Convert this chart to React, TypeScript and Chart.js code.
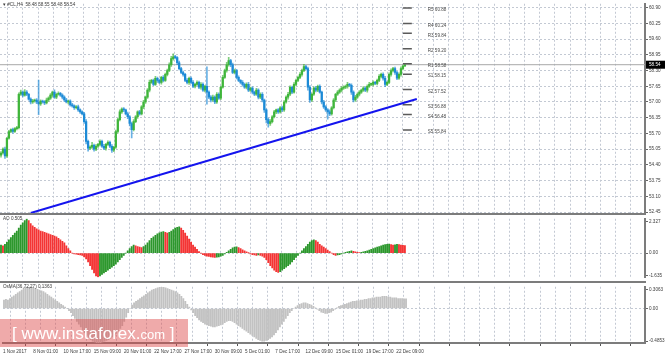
import React, { useEffect, useRef } from 'react';
import { Chart, registerables } from 'chart.js';
Chart.register(...registerables);

// ---------- data ----------
const FIRST_OPEN = 54.8;
const CLOSES = [
  54.89, 55.05, 54.77, 55.5, 55.78, 55.86, 55.78, 55.9, 55.94, 57.32,
  57.41, 57.28, 57.41, 57.32, 57.12, 57.0, 57.04, 57.08, 57.0, 56.92,
  57.04, 57.0, 56.96, 57.08, 57.16, 57.28, 57.41, 57.2, 57.32, 57.36,
  57.28, 57.2, 57.08, 57.0, 57.04, 56.88, 56.84, 56.76, 56.8, 56.67,
  56.59, 56.51, 56.19, 55.37, 55.09, 55.13, 55.21, 55.05, 55.17, 55.25,
  55.37, 55.17, 55.09, 55.25, 55.33, 55.17, 55.01, 55.13, 55.78, 56.27,
  56.59, 56.71, 56.67, 56.51, 56.39, 56.11, 55.86, 56.19, 56.39, 56.59,
  56.51, 56.8, 57.0, 57.2, 57.49, 57.81, 57.89, 57.73, 57.98, 57.89,
  57.81, 58.02, 57.89, 58.14, 58.3, 58.54, 58.79, 58.87, 58.83, 58.62,
  58.38, 58.22, 58.14, 57.89, 57.81, 57.98, 57.81, 57.65, 57.73, 57.81,
  57.61, 57.73, 57.49, 57.65, 57.41, 57.2, 57.08, 57.2, 57.0, 57.32,
  57.16, 57.61, 58.02, 58.3, 58.54, 58.71, 58.54, 58.22, 58.3, 58.02,
  57.89, 57.81, 57.73, 57.61, 57.73, 57.49, 57.57, 57.41, 57.32, 57.49,
  57.2, 57.32, 57.08, 56.67, 56.27, 56.11, 56.19, 56.39, 56.59, 56.67,
  56.59, 56.76, 56.67, 57.0, 57.2, 57.32, 57.61, 57.41, 57.73, 57.89,
  58.02, 58.14, 58.3, 58.46, 58.38, 57.61, 57.08, 57.32, 57.57, 57.49,
  57.65, 57.41, 57.0, 56.8, 56.67, 56.59, 56.51, 56.76, 57.08, 57.32,
  57.41, 57.49, 57.57, 57.61, 57.65, 57.73, 57.69, 57.41, 57.08, 57.2,
  57.32, 57.41, 57.49, 57.57, 57.49, 57.65, 57.73, 57.73, 57.81, 57.77,
  57.89, 58.06, 58.14, 57.98, 57.73, 57.81, 58.14, 58.3, 58.38, 58.22,
  57.98, 58.14, 58.38, 58.48, 58.54,
];
// wick lengths in hundredths above / below the candle body
const WICK_UP = [
  6, 5, 8, 4, 5, 3, 6, 4, 5, 6, 8, 5, 10, 6, 4, 5, 7, 4, 6, 90,
  5, 4, 6, 8, 5, 7, 4, 9, 5, 6, 4, 6, 5, 7, 4, 5, 6, 4, 5, 7,
  5, 4, 6, 8, 5, 6, 12, 5, 7, 4, 6, 5, 8, 4, 6, 5, 7, 4, 6, 5,
  8, 5, 6, 4, 7, 5, 6, 8, 5, 4, 6, 5, 7, 4, 6, 10, 5, 6, 8, 5,
  6, 4, 7, 5, 6, 8, 10, 12, 6, 5, 7, 5, 6, 4, 8, 5, 6, 7, 4, 6,
  5, 7, 6, 4, 80, 5, 6, 8, 5, 7, 6, 5, 8, 6, 10, 14, 5, 7, 6, 5,
  6, 4, 7, 5, 6, 8, 5, 6, 4, 7, 5, 6, 7, 4, 5, 6, 8, 5, 6, 4,
  6, 5, 7, 6, 5, 8, 6, 5, 7, 6, 5, 8, 6, 10, 5, 6, 7, 5, 6, 8,
  5, 6, 4, 7, 5, 6, 8, 5, 6, 4, 6, 5, 7, 6, 5, 8, 4, 6, 5, 7,
  5, 6, 4, 7, 5, 6, 8, 5, 6, 4, 6, 7, 5, 6, 8, 5, 6, 7, 5, 6,
  5, 6, 7, 5, 1,
];
const WICK_DN = [
  8, 5, 10, 6, 4, 5, 7, 4, 6, 5, 5, 7, 4, 6, 5, 8, 6, 5, 7, 45,
  6, 5, 7, 4, 6, 5, 8, 5, 6, 4, 5, 7, 6, 4, 8, 5, 6, 7, 5, 6,
  6, 5, 8, 10, 12, 6, 5, 8, 6, 5, 7, 5, 6, 8, 5, 6, 10, 6, 5, 7,
  5, 6, 7, 5, 8, 10, 35, 6, 5, 7, 6, 5, 8, 6, 5, 7, 4, 6, 5, 8,
  5, 7, 6, 4, 6, 5, 7, 6, 5, 8, 6, 5, 7, 5, 6, 8, 5, 6, 7, 5,
  6, 8, 5, 7, 50, 6, 8, 5, 7, 6, 5, 6, 4, 5, 7, 6, 8, 5, 6, 7,
  5, 6, 8, 5, 7, 6, 5, 8, 6, 5, 7, 6, 8, 10, 14, 15, 8, 6, 5, 7,
  6, 5, 7, 6, 5, 8, 6, 7, 5, 6, 5, 6, 7, 5, 6, 12, 10, 6, 5, 7,
  6, 5, 8, 7, 6, 30, 8, 6, 5, 7, 5, 6, 7, 5, 6, 8, 5, 10, 8, 6,
  5, 7, 6, 5, 6, 8, 5, 6, 7, 5, 6, 5, 7, 8, 10, 6, 5, 7, 6, 8,
  6, 5, 7, 6, 0,
];
const AO_VALUES = [
  0.55, 0.5, 0.6, 0.75, 0.9, 1.05, 1.2, 1.35, 1.5, 1.7,
  1.9, 2.05, 2.2, 2.327, 2.2, 2.0, 1.85, 1.75, 1.65, 1.58,
  1.5, 1.45, 1.4, 1.35, 1.3, 1.25, 1.2, 1.15, 1.1, 1.0,
  0.9, 0.8, 0.7, 0.5, 0.3, 0.15, 0.0, -0.05, -0.08, -0.1,
  -0.12, -0.15, -0.25, -0.4, -0.6, -0.85, -1.1, -1.35, -1.55, -1.635,
  -1.55, -1.45, -1.35, -1.25, -1.15, -1.05, -0.95, -0.85, -0.75, -0.6,
  -0.45, -0.3, -0.15, 0.0, 0.15, 0.3, 0.45, 0.55, 0.5, 0.45,
  0.4, 0.38, 0.45, 0.55, 0.7, 0.85, 1.0, 1.1, 1.2, 1.3,
  1.38, 1.42, 1.45, 1.4, 1.35, 1.4, 1.5, 1.6, 1.7, 1.75,
  1.78, 1.7, 1.55, 1.35, 1.15, 0.95, 0.75, 0.55, 0.4, 0.25,
  0.1, 0.0, -0.1, -0.15, -0.2, -0.22, -0.25, -0.28, -0.3, -0.28,
  -0.25, -0.2, -0.15, -0.05, 0.05, 0.15, 0.25, 0.35, 0.4, 0.42,
  0.38, 0.3, 0.22, 0.15, 0.08, 0.02, -0.05, -0.1, -0.12, -0.15,
  -0.12, -0.15, -0.2, -0.3, -0.45, -0.65, -0.85, -1.0, -1.15, -1.25,
  -1.3, -1.25, -1.15, -1.05, -0.95, -0.85, -0.75, -0.6, -0.45, -0.3,
  -0.15, 0.0, 0.15, 0.3, 0.45, 0.6, 0.75, 0.85, 0.9, 0.85,
  0.75, 0.6, 0.5, 0.4, 0.3, 0.2, 0.1, 0.0, -0.1, -0.15,
  -0.12, -0.1, -0.05, 0.0, 0.05, 0.08, 0.12, 0.15, 0.12, 0.08,
  0.05, 0.03, 0.05, 0.08, 0.12, 0.16, 0.2, 0.25, 0.3, 0.35,
  0.4, 0.45, 0.5, 0.55, 0.58, 0.6, 0.62, 0.58, 0.55, 0.56,
  0.6, 0.58, 0.55, 0.52, 0.505,
];
const OSMA_VALUES = [
  0.12, 0.13, 0.12, 0.14, 0.16, 0.18, 0.2, 0.22, 0.24, 0.26,
  0.28, 0.29, 0.3, 0.3063, 0.3, 0.29, 0.28, 0.27, 0.26, 0.25,
  0.24, 0.22, 0.2, 0.18, 0.16, 0.14, 0.12, 0.1, 0.08, 0.06,
  0.04, 0.02, 0.0, -0.03, -0.06, -0.1, -0.14, -0.18, -0.22, -0.26,
  -0.3, -0.34, -0.38, -0.41, -0.44, -0.46, -0.47, -0.48, -0.4853, -0.48,
  -0.47, -0.46, -0.45, -0.44, -0.42, -0.4, -0.38, -0.35, -0.32, -0.28,
  -0.24, -0.18, -0.12, -0.06, 0.0, 0.05, 0.08, 0.1, 0.12, 0.14,
  0.16, 0.18, 0.2, 0.22, 0.24, 0.26, 0.27, 0.28, 0.29, 0.3,
  0.3, 0.3, 0.29, 0.28, 0.27, 0.26, 0.25, 0.24, 0.22, 0.2,
  0.17, 0.14, 0.1, 0.06, 0.02, -0.02, -0.06, -0.1, -0.13, -0.16,
  -0.18, -0.2, -0.22, -0.23, -0.24, -0.25, -0.26, -0.26, -0.25, -0.24,
  -0.23, -0.22, -0.2, -0.18, -0.17, -0.17, -0.18, -0.2, -0.22, -0.24,
  -0.26, -0.28, -0.3, -0.32, -0.34, -0.36, -0.38, -0.4, -0.42, -0.44,
  -0.45, -0.46, -0.46, -0.45, -0.44, -0.42, -0.4, -0.37, -0.34, -0.3,
  -0.26, -0.22, -0.18, -0.14, -0.1, -0.06, -0.03, 0.0, 0.02, 0.04,
  0.06, 0.07, 0.08, 0.08, 0.07, 0.06, 0.05, 0.03, 0.01, -0.01,
  -0.03, -0.05, -0.06, -0.07, -0.07, -0.06, -0.05, -0.03, -0.01, 0.01,
  0.03, 0.04, 0.05, 0.06, 0.07, 0.08, 0.09, 0.1, 0.1, 0.11,
  0.11, 0.12, 0.12, 0.13, 0.13, 0.14, 0.14, 0.15, 0.15, 0.16,
  0.16, 0.16, 0.17, 0.17, 0.17, 0.16, 0.16, 0.15, 0.15, 0.15,
  0.14, 0.14, 0.14, 0.1363, 0.1363,
];
const PRICE_TICKS = [60.9, 60.25, 59.6, 58.95, 58.3, 57.65, 57.0, 56.35, 55.7, 55.05, 54.4, 53.75, 53.1, 52.45];
const PRICE_MIN = 52.41;
const PRICE_MAX = 61.06;
const AO_MIN = -1.635;
const AO_MAX = 2.327;
const OSMA_MIN = -0.4853;
const OSMA_MAX = 0.3063;
const PIVOT_NAMES = ['R5', 'R4', 'R3', 'R2', 'R1', 'S1', 'S2', 'S3', 'S4', 'S5'];
const PIVOT_LEVELS = [60.88, 60.24, 59.84, 59.2, 58.58, 58.15, 57.52, 56.88, 56.48, 55.84];
const TIME_LABELS = [
  '1 Nov 2017', '8 Nov 01:00', '10 Nov 17:00', '15 Nov 09:00', '20 Nov 01:00', '22 Nov 17:00', '27 Nov 17:00',
  '30 Nov 09:00', '5 Dec 01:00', '7 Dec 17:00', '12 Dec 09:00', '15 Dec 01:00', '19 Dec 17:00', '22 Dec 09:00',
];
const TREND_X = [15, 210];
const TREND_Y = [52.41, 57.12];
const LAST_PRICE = 58.54;
const HEADER = '\u25BE #CL,H4  58.48 58.55 58.48 58.54';
const AO_TITLE = 'AO 0.505';
const OSMA_TITLE = 'OsMA(36,72,27) 0.1363';

// ---------- layout / style ----------
const FONT = "'Liberation Sans', Arial, sans-serif";
const FS = 4.6;
const TEXT = '#3a3a3a';
const GRID = '#c3c9d3';
const FRAME = '#7c7c7c';
const BULL = '#3fb53a';
const BEAR = '#1c8ad6';
const AO_UP = '#2c972c';
const AO_DN = '#f43434';
const OSMA_COL = '#c2c2c2';
const PLOT_W = 645;
const BAR_PX = 1.98;
const GRID_PX = 15.2;
const X_MIN = -0.5;
const X_MAX = X_MIN + PLOT_W / BAR_PX;
const GRID_VALUES: number[] = [];
for (let k = 0; k * GRID_PX <= PLOT_W; k++) GRID_VALUES.push(X_MIN + (k * GRID_PX) / BAR_PX);

const OPENS = CLOSES.map((c, i) => (i === 0 ? FIRST_OPEN : CLOSES[i - 1]));
const HIGHS = CLOSES.map((c, i) => Math.max(OPENS[i], c) + WICK_UP[i] / 100);
const LOWS = CLOSES.map((c, i) => Math.min(OPENS[i], c) - WICK_DN[i] / 100);
const CANDLE_COLORS = CLOSES.map((c, i) => (c >= OPENS[i] ? BULL : BEAR));
const AO_COLORS = AO_VALUES.map((v, i) => (i === 0 || v >= AO_VALUES[i - 1] ? AO_UP : AO_DN));

function xAxis(showLabels: boolean) {
  return {
    type: 'linear',
    min: X_MIN,
    max: X_MAX,
    offset: false,
    afterBuildTicks: (s: any) => {
      s.ticks = GRID_VALUES.map((v) => ({ value: v }));
    },
    afterFit: (s: any) => {
      s.height = showLabels ? 14 : 0;
    },
    ticks: {
      display: showLabels,
      autoSkip: false,
      maxRotation: 0,
      minRotation: 0,
      align: 'start',
      padding: 3,
      color: TEXT,
      font: { size: FS, family: FONT },
      callback: (_v: any, i: number) => (i % 2 === 0 && TIME_LABELS[i / 2] ? TIME_LABELS[i / 2] : ''),
    },
    grid: {
      color: GRID,
      lineWidth: 1,
      drawTicks: showLabels,
      tickLength: 3,
      tickColor: (ctx: any) => (ctx.index % 2 === 0 ? '#555' : 'rgba(0,0,0,0)'),
    },
    border: { display: showLabels, color: FRAME, width: 2, dash: [2, 2] },
  };
}

function yAxis(min: number, max: number, ticks: { value: number; label: string; grid: boolean }[]) {
  return {
    position: 'right',
    min,
    max,
    afterFit: (s: any) => {
      s.width = 665 - PLOT_W;
    },
    afterBuildTicks: (s: any) => {
      s.ticks = ticks.map((t) => ({ value: t.value }));
    },
    ticks: {
      color: TEXT,
      padding: 1,
      font: { size: FS, family: FONT },
      callback: (_v: any, i: number) => ticks[i].label,
    },
    grid: {
      color: (ctx: any) => (ticks[ctx.index] && ticks[ctx.index].grid ? GRID : 'rgba(0,0,0,0)'),
      lineWidth: 1,
      drawTicks: true,
      tickLength: 3,
      tickColor: '#666',
    },
    border: { display: true, color: FRAME, width: 2, dash: [2, 2] },
  };
}

const baseOptions = (padding: any) => ({
  responsive: false,
  maintainAspectRatio: false,
  animation: false,
  events: [],
  layout: { padding },
  plugins: { legend: { display: false }, tooltip: { enabled: false } },
});

function mainConfig(): any {
  const pivotData: any[] = [];
  PIVOT_LEVELS.forEach((lv) => {
    pivotData.push({ x: 203, y: lv }, { x: 207.5, y: lv }, { x: 207.6, y: null });
  });
  const overlay = {
    id: 'mainOverlay',
    afterDraw(chart: any) {
      const { ctx, scales } = chart;
      const xs = scales.x;
      const ys = scales.y;
      ctx.save();
      ctx.font = `${FS}px ${FONT}`;
      ctx.fillStyle = '#4a4a4a';
      ctx.textBaseline = 'middle';
      ctx.textAlign = 'left';
      PIVOT_NAMES.forEach((n, i) => {
        ctx.fillText(`${n} ${PIVOT_LEVELS[i].toFixed(2)}`, xs.getPixelForValue(215.5), ys.getPixelForValue(PIVOT_LEVELS[i]) + 2);
      });
      const py = ys.getPixelForValue(LAST_PRICE);
      ctx.fillStyle = '#000';
      ctx.fillRect(PLOT_W + 1, py - 4, 20, 8);
      ctx.fillStyle = '#fff';
      ctx.fillText(LAST_PRICE.toFixed(2), PLOT_W + 4, py + 0.5);
      ctx.restore();
    },
  };
  return {
    type: 'bar',
    data: {
      datasets: [
        {
          type: 'line',
          data: TREND_X.map((x, i) => ({ x, y: TREND_Y[i] })),
          borderColor: '#1414ee',
          borderWidth: 2,
          pointRadius: 0,
          order: 0,
        },
        {
          type: 'line',
          data: pivotData,
          borderColor: '#5a5a5a',
          borderWidth: 1.5,
          pointRadius: 0,
          spanGaps: false,
          order: 1,
        },
        {
          type: 'bar',
          data: CLOSES.map((c, i) => ({ x: i, y: [OPENS[i], c] })),
          backgroundColor: CANDLE_COLORS,
          barThickness: 1.6,
          minBarLength: 1,
          grouped: false,
          order: 2,
        },
        {
          type: 'bar',
          data: CLOSES.map((_c, i) => ({ x: i, y: [LOWS[i], HIGHS[i]] })),
          backgroundColor: CANDLE_COLORS.map((c) => c + 'aa'),
          barThickness: 1,
          grouped: false,
          order: 3,
        },
        {
          type: 'line',
          data: [
            { x: X_MIN, y: LAST_PRICE },
            { x: X_MAX, y: LAST_PRICE },
          ],
          borderColor: '#a8a8a8',
          borderWidth: 1,
          pointRadius: 0,
          order: 4,
        },
      ],
    },
    options: {
      ...baseOptions({ top: 0, bottom: 7, left: 0, right: 0 }),
      scales: {
        x: xAxis(false),
        y: yAxis(
          PRICE_MIN,
          PRICE_MAX,
          PRICE_TICKS.map((v) => ({ value: v, label: v.toFixed(2), grid: true }))
        ),
      },
    },
    plugins: [overlay],
  };
}

function aoConfig(): any {
  const pxPerUnit = 66 / (AO_MAX - AO_MIN);
  return {
    type: 'bar',
    data: {
      datasets: [
        {
          data: AO_VALUES.map((v, i) => ({ x: i, y: v })),
          backgroundColor: AO_COLORS,
          barThickness: 1.2,
          grouped: false,
        },
      ],
    },
    options: {
      ...baseOptions(0),
      scales: {
        x: xAxis(false),
        y: yAxis(AO_MIN, AO_MAX, [
          { value: AO_MAX - 3 / pxPerUnit, label: AO_MAX.toFixed(3), grid: false },
          { value: 0, label: '0.00', grid: true },
          { value: AO_MIN + 2 / pxPerUnit, label: AO_MIN.toFixed(3), grid: false },
        ]),
      },
    },
  };
}

function osmaConfig(): any {
  const pxPerUnit = 60 / (OSMA_MAX - OSMA_MIN);
  return {
    type: 'bar',
    data: {
      datasets: [
        {
          data: OSMA_VALUES.map((v, i) => ({ x: i, y: v })),
          backgroundColor: OSMA_COL,
          barThickness: 1.2,
          grouped: false,
        },
      ],
    },
    options: {
      ...baseOptions(0),
      scales: {
        x: xAxis(true),
        y: yAxis(OSMA_MIN, OSMA_MAX, [
          { value: OSMA_MAX - 3 / pxPerUnit, label: OSMA_MAX.toFixed(4), grid: false },
          { value: 0, label: '0.00', grid: true },
          { value: OSMA_MIN + 2 / pxPerUnit, label: OSMA_MIN.toFixed(4), grid: false },
        ]),
      },
    },
  };
}

export default function App() {
  const mainRef = useRef<HTMLCanvasElement>(null);
  const aoRef = useRef<HTMLCanvasElement>(null);
  const osRef = useRef<HTMLCanvasElement>(null);

  useEffect(() => {
    const charts = [
      new Chart(mainRef.current as HTMLCanvasElement, mainConfig()),
      new Chart(aoRef.current as HTMLCanvasElement, aoConfig()),
      new Chart(osRef.current as HTMLCanvasElement, osmaConfig()),
    ];
    return () => charts.forEach((c) => c.destroy());
  }, []);

  const abs = (left: number, top: number, w: number, h: number): React.CSSProperties => ({
    position: 'absolute',
    left,
    top,
    width: w,
    height: h,
  });
  const small: React.CSSProperties = { fontSize: FS, color: TEXT, fontFamily: FONT, whiteSpace: 'pre', lineHeight: '6px' };

  return (
    <div style={{ position: 'fixed', left: 0, top: 0, width: 665, height: 357, background: '#fff', overflow: 'hidden' }}>
      <canvas ref={mainRef} width={665} height={220} style={abs(0, 0, 665, 220)} />
      <canvas ref={aoRef} width={665} height={66} style={abs(0, 215, 665, 66)} />
      <canvas ref={osRef} width={665} height={74} style={abs(0, 283, 665, 74)} />
      <div style={{ ...abs(0, 213, PLOT_W + 1, 2), background: FRAME }} />
      <div style={{ ...abs(0, 281, PLOT_W + 1, 2), background: FRAME }} />
      <div style={{ ...small, position: 'absolute', left: 3, top: 2 }}>{HEADER}</div>
      <div style={{ ...small, position: 'absolute', left: 3, top: 216 }}>{AO_TITLE}</div>
      <div style={{ ...small, position: 'absolute', left: 3, top: 284 }}>{OSMA_TITLE}</div>
      <div
        style={{
          ...abs(0, 319, 188, 28),
          background: 'rgba(222, 78, 78, 0.48)',
          color: '#fff',
          fontFamily: FONT,
          whiteSpace: 'pre',
          lineHeight: '30px',
        }}
      >
        <span style={{ fontSize: 17, marginLeft: 12 }}>[ www.instaforex.</span>
        <span style={{ fontSize: 13 }}>com</span>
        <span style={{ fontSize: 17 }}> ]</span>
      </div>
    </div>
  );
}
